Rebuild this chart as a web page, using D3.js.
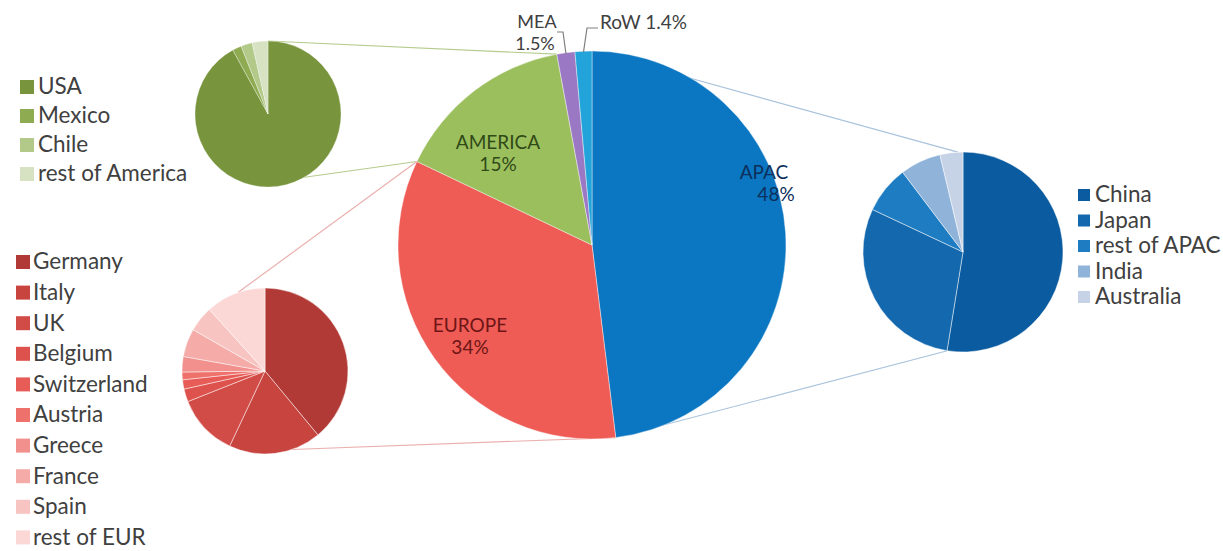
<!DOCTYPE html>
<html>
<head>
<meta charset="utf-8">
<script src="https://cdn.jsdelivr.net/npm/d3@7"></script>
<style>
  html, body { margin: 0; padding: 0; background: #ffffff; }
  svg { display: block; font-family: Lato, "Open Sans", sans-serif; }
</style>
</head>
<body>
<svg id="chart" width="1223" height="551"></svg>
<script>
// Regional shares (%) — main pie
const mainLabels = ["APAC", "EUROPE", "AMERICA", "MEA", "RoW"];
const mainShares = [48, 34, 15, 1.5, 1.4];
const mainColors = ["#0b77c2", "#ef5c56", "#9cbf5e", "#9a78c4", "#22a3d9"];

// America breakdown
const americaLabels = ["USA", "Mexico", "Chile", "rest of America"];
const americaShares = [92, 2, 2.5, 3.5];
const americaColors = ["#78953d", "#8fab52", "#b2c98a", "#d6e2c2"];

// Europe breakdown
const europeLabels = ["Germany", "Italy", "UK", "Belgium", "Switzerland", "Austria", "Greece", "France", "Spain", "rest of EUR"];
const europeShares = [39, 18, 12, 2.5, 1.8, 1.5, 3, 5.5, 5, 11.7];
const europeColors = ["#b13a36", "#c7443f", "#d24c47", "#de524d", "#e75c57", "#ee716c", "#f1908c", "#f5aba8", "#f8c4c1", "#fbd8d6"];

// APAC breakdown
const apacLabels = ["China", "Japan", "rest of APAC", "India", "Australia"];
const apacShares = [52.5, 29.4, 7.7, 6.6, 3.7];
const apacColors = ["#0a5b9f", "#1468ae", "#1e7dc2", "#8fb3d9", "#c6d3e7"];

const svg = d3.select("#chart");
const textColor = "#404040";

const pie = d3.pie().sort(null).value(d => d);

// point on a circle, angle measured clockwise from 12 o'clock (d3 convention)
function onCircle(c, a) {
  return [c.x + c.r * Math.sin(a), c.y - c.r * Math.cos(a)];
}

function drawPie(c, values, colors, strokeOpacity) {
  const arcs = pie(values);
  const arc = d3.arc().innerRadius(0).outerRadius(c.r);
  const g = svg.append("g").attr("transform", `translate(${c.x},${c.y})`);
  g.selectAll("path")
    .data(arcs)
    .join("path")
    .attr("d", arc)
    .attr("fill", (d, i) => colors[i])
    .attr("stroke", "#ffffff")
    .attr("stroke-opacity", strokeOpacity)
    .attr("stroke-width", 0.8);
  return arcs;
}

function drawLegend(x, y, step, size, fontSize, labels, colors, textGap) {
  const g = svg.append("g").attr("transform", `translate(${x},${y})`);
  const rows = g.selectAll("g")
    .data(labels)
    .join("g")
    .attr("transform", (d, i) => `translate(0,${i * step})`);
  rows.append("rect")
    .attr("x", 0).attr("y", -size / 2)
    .attr("width", size).attr("height", size)
    .attr("fill", (d, i) => colors[i]);
  rows.append("text")
    .attr("x", size + textGap)
    .attr("dy", "0.33em")
    .attr("font-size", fontSize)
    .attr("fill", textColor)
    .text(d => d);
}

const mainC = { x: 592, y: 245, r: 194 };
const amC = { x: 268, y: 114, r: 73 };
const euC = { x: 265, y: 371, r: 83 };
const apC = { x: 963, y: 252, r: 100 };

const deg = Math.PI / 180;
const mainArcs = pie(mainShares);
const [apacArc, europeArc, americaArc, meaArc, rowArc] = mainArcs;

// connector lines from the main slices to their breakdown pies
const connectors = [
  { from: onCircle(mainC, americaArc.endAngle), to: onCircle(amC, 0), color: "#b5cc8e" },
  { from: onCircle(mainC, americaArc.startAngle), to: onCircle(amC, 150 * deg), color: "#b5cc8e" },
  { from: onCircle(mainC, europeArc.endAngle), to: onCircle(euC, -19 * deg), color: "#eab0ae" },
  { from: onCircle(mainC, europeArc.startAngle), to: onCircle(euC, 161 * deg), color: "#eab0ae" },
  { from: onCircle(mainC, apacArc.startAngle), to: onCircle(apC, -3 * deg), color: "#a9c3dc" },
  { from: onCircle(mainC, apacArc.endAngle), to: onCircle(apC, 189 * deg), color: "#a9c3dc" }
];
svg.append("g").selectAll("line")
  .data(connectors)
  .join("line")
  .attr("x1", d => d.from[0]).attr("y1", d => d.from[1])
  .attr("x2", d => d.to[0]).attr("y2", d => d.to[1])
  .attr("stroke", d => d.color)
  .attr("stroke-width", 1.2);

// pies
drawPie(mainC, mainShares, mainColors, 0.5);
drawPie(amC, americaShares, americaColors, 0.4);
drawPie(euC, europeShares, europeColors, 0.6);
drawPie(apC, apacShares, apacColors, 0.6);

// in-slice labels of the main pie
const labelSize = 19;
const inLabels = [
  { lines: ["AMERICA", mainShares[2] + "%"], x: 498, y: 142, color: "#2f4a17" },
  { lines: ["EUROPE", mainShares[1] + "%"], x: 470, y: 325, color: "#6e1515" },
  { lines: ["APAC", mainShares[0] + "%"], x: 764, y: 172, color: "#0c2f5c", dx2: 12 }
];
inLabels.forEach(l => {
  const t = svg.append("text")
    .attr("text-anchor", "middle")
    .attr("font-size", labelSize)
    .attr("fill", l.color);
  t.append("tspan").attr("x", l.x).attr("y", l.y).attr("dy", "0.35em").text(l.lines[0]);
  t.append("tspan").attr("x", l.x + (l.dx2 || 0)).attr("y", l.y + 22).attr("dy", "0.35em").text(l.lines[1]);
});

// outside labels with leader lines for the small slices
const meaTip = onCircle({ x: mainC.x, y: mainC.y, r: mainC.r - 1 }, (meaArc.startAngle + meaArc.endAngle) / 2);
const rowTip = onCircle({ x: mainC.x, y: mainC.y, r: mainC.r - 1 }, (rowArc.startAngle + rowArc.endAngle) / 2);
const leaders = [
  [[557, 32], [563, 32], meaTip],
  [[598, 28], [587, 28], rowTip]
];
svg.append("g").selectAll("path")
  .data(leaders)
  .join("path")
  .attr("d", d => d3.line()(d))
  .attr("fill", "none")
  .attr("stroke", "#808080")
  .attr("stroke-width", 1.2);

const meaText = svg.append("text")
  .attr("text-anchor", "middle")
  .attr("font-size", 18)
  .attr("fill", textColor);
meaText.append("tspan").attr("x", 537).attr("y", 22).attr("dy", "0.35em").text(mainLabels[3]);
meaText.append("tspan").attr("x", 535).attr("y", 44).attr("dy", "0.35em").text(mainShares[3] + "%");

svg.append("text")
  .attr("x", 600).attr("y", 22).attr("dy", "0.35em")
  .attr("font-size", labelSize)
  .attr("fill", textColor)
  .text(mainLabels[4] + " " + mainShares[4] + "%");

// legends
drawLegend(20, 87, 29, 14, 22.5, americaLabels, americaColors, 4);
drawLegend(16, 262, 30.6, 14, 22.5, europeLabels, europeColors, 3);
drawLegend(1078, 195, 25.5, 12, 22.5, apacLabels, apacColors, 5);
</script>
</body>
</html>
